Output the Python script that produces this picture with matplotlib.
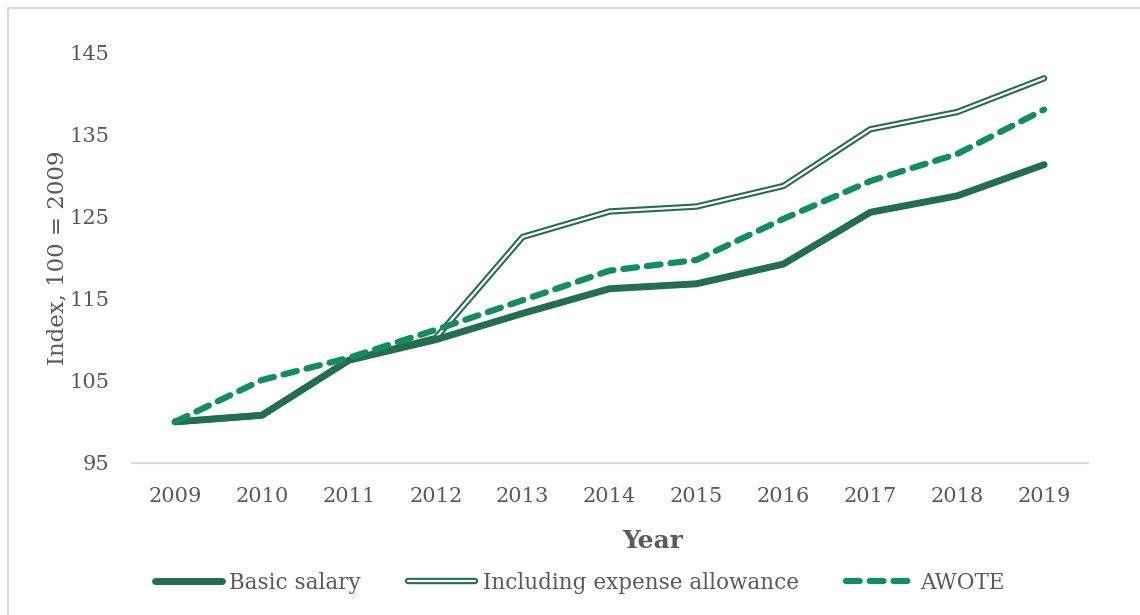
import numpy as np
import matplotlib
matplotlib.use("Agg")
import matplotlib.pyplot as plt
import matplotlib.patheffects as pe
from matplotlib.lines import Line2D

years = ["2009", "2010", "2011", "2012", "2013", "2014", "2015", "2016", "2017", "2018", "2019"]
basic = [100.0, 100.8, 107.5, 110.0, 113.2, 116.2, 116.8, 119.2, 125.5, 127.5, 131.3]
incl_expense = [100.0, 100.8, 107.5, 110.2, 122.5, 125.6, 126.2, 128.7, 135.6, 137.7, 141.8]
awote = [100.0, 105.1, 107.8, 111.2, 114.8, 118.4, 119.7, 124.7, 129.3, 132.6, 138.0]

dark = "#256D4F"
green = "#138D5E"
grey = "#595959"

plt.rcParams['font.family'] = ['DejaVu Serif']

fig = plt.figure(figsize=(11.4, 6.15), dpi=100)
ax = fig.add_axes([0.1154, 0.2472, 0.8386, 0.6682])

x = np.arange(len(years))
# double line sits underneath the basic salary line
ax.plot(x, incl_expense, color="white", lw=1.6, solid_capstyle='round', zorder=2,
        path_effects=[pe.Stroke(linewidth=4.6, foreground=dark, capstyle='round'), pe.Normal()],
        label="Including expense allowance")
ax.plot(x, basic, color=dark, lw=5, solid_capstyle='round', label="Basic salary", zorder=3)
ax.plot(x, awote, color=green, lw=4.5, ls=(0, (2.2, 1.6)), dash_capstyle='round',
        label="AWOTE", zorder=5)

ax.set_xlim(-0.5, len(years) - 0.5)
ax.set_ylim(95, 145)
ax.set_yticks([95, 105, 115, 125, 135, 145])
ax.set_xticks(x)
ax.set_xticklabels(years)
ax.tick_params(length=0, labelsize=15, colors=grey)
ax.tick_params(axis='x', pad=17)
ax.tick_params(axis='y', pad=16)
for s in ["top", "right", "left"]:
    ax.spines[s].set_visible(False)
ax.spines["bottom"].set_color("#D9D9D9")
ax.spines["bottom"].set_linewidth(1.5)

ax.set_ylabel("Index, 100 = 2009", fontsize=16.5, color=grey, labelpad=1)
fig.text(653 / 1140, 1 - 541 / 615, "Year", ha='center', va='center',
         fontsize=18, fontweight='bold', color=grey)

h, l = ax.get_legend_handles_labels()
order = [1, 0, 2]
ax.legend([h[i] for i in order], [l[i] for i in order], loc='center',
          bbox_to_anchor=(580 / 1140, 1 - 583 / 615), bbox_transform=fig.transFigure,
          ncol=3, frameon=False, fontsize=15.5, labelcolor=grey, handlelength=3.1,
          handletextpad=0.35, columnspacing=2.2)

# outer chart border (left and top edges visible)
fig.add_artist(Line2D([8 / 1140, 8 / 1140], [0, 1 - 8 / 615], transform=fig.transFigure,
                      color="#D9D9D9", lw=1.5))
fig.add_artist(Line2D([8 / 1140, 1], [1 - 8 / 615, 1 - 8 / 615], transform=fig.transFigure,
                      color="#D9D9D9", lw=1.5))

fig.savefig("out.png", dpi=100)
